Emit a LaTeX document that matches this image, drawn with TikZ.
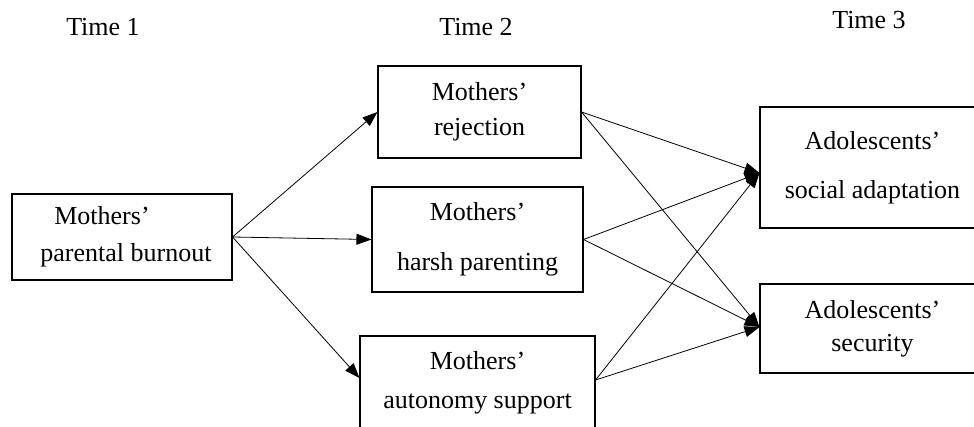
\documentclass[tikz,border=0pt]{standalone}
\usepackage{fontspec}
\setmainfont{Liberation Serif}
\usetikzlibrary{arrows.meta}
\begin{document}
\begin{tikzpicture}[x=1pt,y=-1pt,
  box/.style={draw,line width=1.1pt,inner sep=0pt,align=center,
    font=\fontsize{26}{35}\selectfont},
  lbl/.style={font=\fontsize{26}{30}\selectfont,inner sep=0pt},
  arr/.style={line width=0.8pt,-{Triangle[length=15pt,width=11pt]}}]
\useasboundingbox (0,0) rectangle (974,426);
\clip (0,0) rectangle (974,426);
\fill[white] (0,0) rectangle (974,426);
\node[lbl] (t1) at (103,27) {Time 1};
\node[lbl] (t2) at (476,27) {Time 2};
\node[lbl] (t3) at (869,20) {Time 3};
\node[box,minimum width=220pt,minimum height=86pt] (burn) at (122,237) {Mothers’\hspace*{40pt}\\[2pt]\hspace*{8pt}parental burnout};
\node[box,minimum width=203pt,minimum height=92pt] (rej) at (479.5,112) {Mothers’\\rejection};
\node[box,minimum width=211pt,minimum height=105pt] (harsh) at (477.5,239.5) {Mothers’\\[15pt]harsh parenting};
\node[box,minimum width=235pt,minimum height=94pt] (aut) at (477.5,383) {Mothers’\\[4pt]autonomy support};
\node[box,minimum width=225pt,minimum height=121pt] (soc) at (872.5,167.5) {Adolescents’\\[14pt]social adaptation};
\node[box,minimum width=225pt,minimum height=89pt] (sec) at (872.5,328.5) {Adolescents’\\[-2pt]security};
\coordinate (socin) at ([yshift=-5.5pt]soc.west);
\coordinate (secin) at ([yshift=1.5pt]sec.west);
\draw[arr] (burn.east) -- (rej.west);
\draw[arr] (burn.east) -- (harsh.west);
\draw[arr] (burn.east) -- ([yshift=5pt]aut.west);
\draw[arr] (rej.east) -- (socin);
\draw[arr] (rej.east) -- (secin);
\draw[arr] (harsh.east) -- (socin);
\draw[arr] (harsh.east) -- (secin);
\draw[arr] ([yshift=3pt]aut.east) -- (socin);
\draw[arr] ([yshift=3pt]aut.east) -- (secin);
\end{tikzpicture}
\end{document}
